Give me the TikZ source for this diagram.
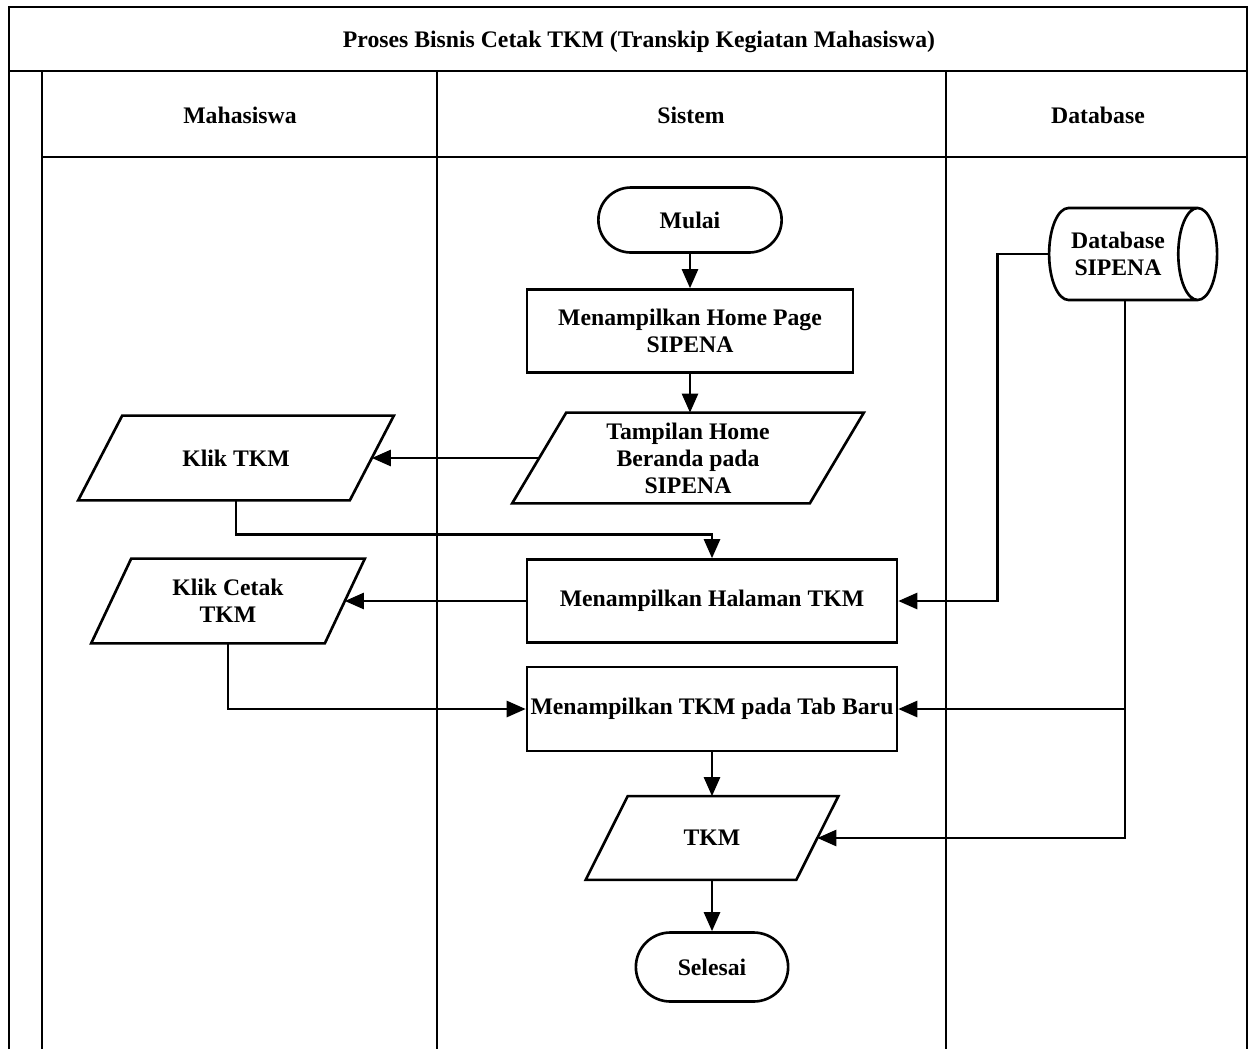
\documentclass[tikz,border=0pt]{standalone}
\usepackage{fontspec}
\setmainfont{Liberation Serif}
\usepackage{tikz}
\usetikzlibrary{positioning, arrows.meta, calc, shapes.geometric, shapes.misc}

\tikzset{
  garis/.style={line width=1.5pt},
  proses/.style={draw, line width=1.5pt, rectangle, align=center, inner sep=2pt},
  terminal/.style={draw, line width=1.5pt, rounded rectangle, align=center},
  io/.style={rectangle, align=center, inner sep=0pt},
  dbase/.style={draw, line width=1.5pt, cylinder, aspect=0.7, align=center},
  alur/.style={line width=1.5pt, -{Triangle[length=3.8mm, width=3.2mm]}}
}
% jajar genjang di sekeliling node io (#2 = setengah kemiringan)
\newcommand{\jajargenjang}[2]{%
  \draw[garis] ($(#1.south west)+(-#2,0)$) -- ($(#1.north west)+(#2,0)$)
    -- ($(#1.north east)+(#2,0)$) -- ($(#1.south east)+(-#2,0)$) -- cycle;}

\begin{document}
\begin{tikzpicture}[x=0.02cm, y=-0.02cm,
    every node/.style={font=\fontsize{13.5}{15.4}\selectfont\bfseries}]
  \useasboundingbox (0,0) rectangle (1251,1049);

  % kerangka swimlane
  \draw[garis] (9,1049) -- (9,7) -- (1247,7) -- (1247,1049);
  \draw[garis] (9,71) -- (1247,71);
  \draw[garis] (42,71) -- (42,1049);
  \draw[garis] (42,157) -- (1247,157);
  \draw[garis] (437,71) -- (437,1049);
  \draw[garis] (946,71) -- (946,1049);

  \node (judul) at (639,42) {Proses Bisnis Cetak TKM (Transkip Kegiatan Mahasiswa)};
  \node (hmhs) at (240,115) {Mahasiswa};
  \node (hsis) at (691,115) {Sistem};
  \node (hdb) at (1098,115) {Database};

  % simbol alur
  \node[terminal, minimum width=3.9cm, minimum height=1.3cm] (mulai) at (690,220) {Mulai};
  \node[proses, minimum width=6.52cm, minimum height=1.66cm] (home) at (690,331)
       {Menampilkan Home Page\\SIPENA};
  \node[io, minimum width=5.94cm, minimum height=1.8cm] (tampil) at (688,458)
       {Tampilan Home\\Beranda pada\\SIPENA};
  \node[io, minimum width=5.42cm, minimum height=1.68cm] (kliktkm) at (236,458) {Klik TKM};
  \node[io, minimum width=4.66cm, minimum height=1.68cm] (klikcetak) at (228,601)
       {Klik Cetak\\TKM};
  \node[proses, minimum width=7.4cm, minimum height=1.66cm] (halaman) at (712,601)
       {Menampilkan Halaman TKM};
  \node[proses, minimum width=7.4cm, minimum height=1.68cm] (tabbaru) at (712,709)
       {Menampilkan TKM pada Tab Baru};
  \node[io, minimum width=4.2cm, minimum height=1.66cm] (tkm) at (712,838) {TKM};
  \node[terminal, minimum width=3.28cm, minimum height=1.38cm] (selesai) at (712,967) {Selesai};
  \node[dbase, minimum width=1.84cm, minimum height=3.36cm] (db) at (1118,254)
       {Database\\SIPENA};

  \jajargenjang{tampil}{27}
  \jajargenjang{kliktkm}{22}
  \jajargenjang{klikcetak}{20}
  \jajargenjang{tkm}{21}

  % penghubung
  \draw[alur] (mulai.south) -- (home.north);
  \draw[alur] (home.south) -- (home.south |- tampil.north);
  \draw[alur] (tampil.west) -- (kliktkm.east);
  \draw[alur] (kliktkm.south) -- ++(0,34) -| (halaman.north);
  \draw[alur] (halaman.west) -- (klikcetak.east);
  \draw[alur] (klikcetak.south) |- (tabbaru.west);
  \draw[alur] (db.west) -- ++(-50,0) |- (halaman.east);
  \draw[alur] ([xshift=0.14cm]db.south) |- (tkm.east);
  \draw[alur] ([xshift=0.14cm]db.south |- tabbaru.east) -- (tabbaru.east);
  \draw[alur] (tabbaru.south) -- (tkm.north);
  \draw[alur] (tkm.south) -- (selesai.north);
\end{tikzpicture}
\end{document}
